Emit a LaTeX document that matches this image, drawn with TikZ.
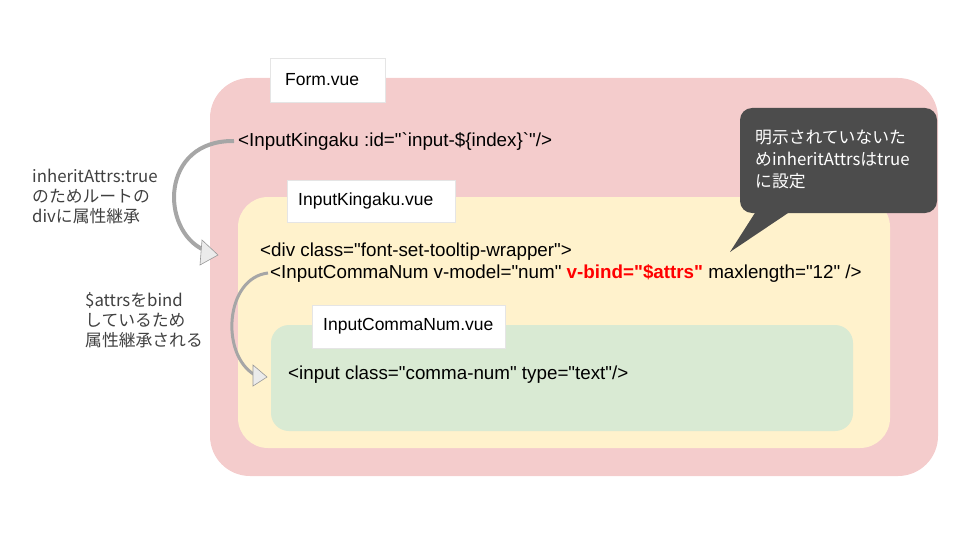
\documentclass[tikz,border=0pt]{standalone}
\usepackage{fontspec}
\setmainfont{Liberation Sans}[Ligatures=TeXOff]
\newfontfamily\cjk{Noto Sans CJK JP}[Ligatures=TeXOff]
\newcommand{\qq}{\symbol{34}}
\newcommand{\bq}{\symbol{96}}
\begin{document}
\begin{tikzpicture}[x=1pt,y=-1pt,
  lbl/.style={fill=white,draw=white!90!black,anchor=north west,inner sep=0pt},
  code/.style={anchor=west,inner sep=0pt,font=\fontsize{18.8}{22}\selectfont},
  ttl/.style={anchor=west,inner sep=0pt,font=\fontsize{17.5}{20}\selectfont},
  note/.style={anchor=north west,inner sep=0pt,align=left,font=\fontsize{16.8}{20}\selectfont\cjk,text=black!75},
  arr/.style={draw=black!35,line width=4pt},
  head/.style={fill=black!8,draw=black!40,line width=0.6pt}]
\useasboundingbox (0,0) rectangle (960,540);
\fill[fill={rgb,255:red,244;green,204;blue,204},rounded corners=40] (210,78) rectangle (938,476);
\node[lbl,minimum width=115,minimum height=44] (form) at (270,58) {};
\node[ttl] (formt) at (285,80) {Form.vue};
\fill[fill={rgb,255:red,255;green,242;blue,204},rounded corners=30] (238,197) rectangle (890,448);
\node[lbl,minimum width=168,minimum height=42] (ik) at (287,180) {};
\node[ttl] (ikt) at (298,201) {InputKingaku.vue};
\fill[fill={rgb,255:red,217;green,234;blue,211},rounded corners=18] (271,325) rectangle (853,431);
\node[lbl,minimum width=193,minimum height=43] (icn) at (312,305) {};
\node[ttl] (icnt) at (323,326) {InputCommaNum.vue};
\node[code] (c1) at (238,141) {<InputKingaku :id=\qq\bq input-\$\{index\}\bq\qq/>};
\node[code] (c2) at (260,252) {<div class=\qq font-set-tooltip-wrapper\qq>};
\node[code] (c3) at (270,273) {<InputCommaNum v-model=\qq num\qq\ \textcolor{red}{\bfseries v-bind=\qq\$attrs\qq} maxlength=\qq12\qq\ />};
\node[code] (c4) at (288,375) {<input class=\qq comma-num\qq\ type=\qq text\qq/>};
% callout
\fill[black!70,rounded corners=12] (740,108) rectangle (937,213);
\fill[black!70] (760,205) -- (730,252) -- (800,205) -- cycle;
\node[anchor=north west,inner sep=0pt,align=left,text=white,font=\fontsize{16.8}{22}\selectfont\cjk] (call) at (755,130) {明示されていないた\\めinheritAttrsはtrue\\に設定};
% notes
\node[note] (n1) at (32,169) {inheritAttrs:true\\のためルートの\\divに属性継承};
\node[note] (n2) at (85,292) {\$attrsをbind\\しているため\\属性継承される};
% arrows
\coordinate (a1s) at (234,141);
\coordinate (a1e) at (204,250);
\draw[arr] (a1s) .. controls (160,140) and (160,230) .. (a1e);
\draw[head] (202,240) -- (218,255) -- (200,265) -- cycle;
\coordinate (a2s) at (268,273);
\coordinate (a2e) at (255,375);
\draw[arr,line width=3pt] (a2s) .. controls (225,278) and (220,355) .. (a2e);
\draw[head] (253,365) -- (267,377) -- (253,386) -- cycle;
\end{tikzpicture}
\end{document}
